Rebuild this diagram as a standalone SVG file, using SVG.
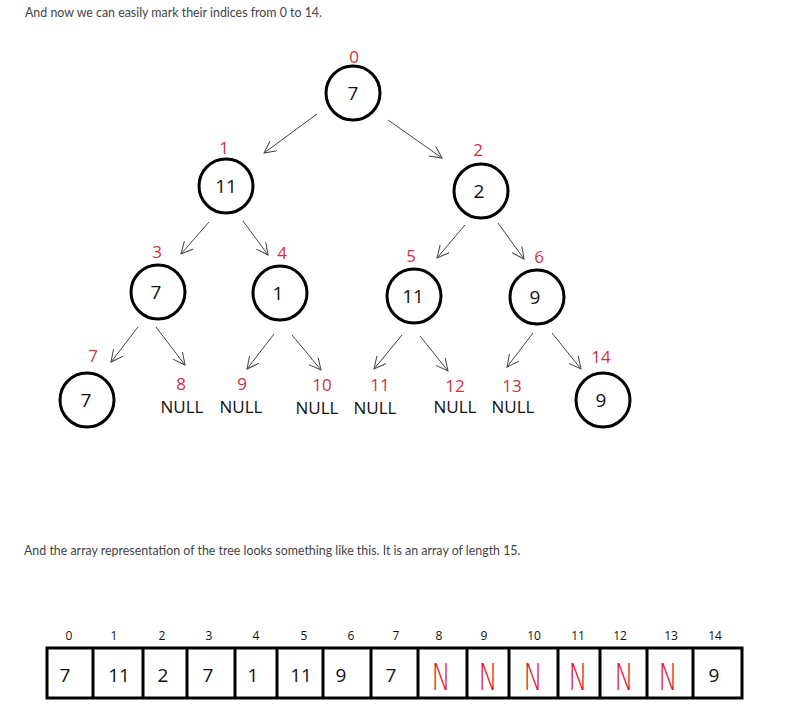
<svg xmlns="http://www.w3.org/2000/svg" width="796" height="725" viewBox="0 0 796 725">
<defs>
<marker id="ah" markerUnits="userSpaceOnUse" markerWidth="14" markerHeight="14" refX="12" refY="6" orient="auto">
<path d="M0,0 L12,6 L0,12" fill="none" stroke="#444" stroke-width="1"/>
</marker>
<style>
.cap{font-family:"Lato","Liberation Sans",sans-serif;font-size:12.4px;fill:#444}
.nd{fill:#fff;stroke:#000;stroke-width:3}
.v{font-family:"Open Sans","Liberation Sans",sans-serif;font-size:19px;fill:#111;text-anchor:middle}
.ix{font-family:"Open Sans","Liberation Sans",sans-serif;font-size:17px;fill:#d0313f;text-anchor:middle}
.nl{font-family:"Open Sans","Liberation Sans",sans-serif;font-size:17px;fill:#111;text-anchor:middle}
.e{stroke:#444;stroke-width:1;fill:none;marker-end:url(#ah)}
.cell{fill:#fff;stroke:#000;stroke-width:3}
.ai{font-family:"Open Sans","Liberation Sans",sans-serif;font-size:12px;fill:#111;text-anchor:middle}
.av{font-family:"Open Sans","Liberation Sans",sans-serif;font-size:19px;fill:#111;text-anchor:middle}
.an{font-family:"DejaVu Sans","Liberation Sans",sans-serif;font-size:37px;fill:#e8121c;text-anchor:middle;font-weight:200}
</style>
</defs>
<rect width="796" height="725" fill="#fff"/>
<text class="cap" x="25" y="17">And now we can easily mark their indices from 0 to 14.</text>
<text class="cap" x="24" y="555">And the array representation of the tree looks something like this. It is an array of length 15.</text>

<g id="connectors">
<line class="e" x1="317" y1="114" x2="264" y2="153"/>
<line class="e" x1="388" y1="120" x2="442" y2="158"/>
<line class="e" x1="209" y1="222" x2="181" y2="254"/>
<line class="e" x1="243" y1="221" x2="268" y2="255"/>
<line class="e" x1="465" y1="225" x2="437" y2="258"/>
<line class="e" x1="498" y1="223" x2="524" y2="259"/>
<line class="e" x1="138" y1="327" x2="111" y2="362"/>
<line class="e" x1="156" y1="327" x2="185" y2="365"/>
<line class="e" x1="274" y1="334" x2="247" y2="369"/>
<line class="e" x1="292" y1="335" x2="321" y2="370"/>
<line class="e" x1="402" y1="335" x2="374" y2="369"/>
<line class="e" x1="420" y1="336" x2="448" y2="371"/>
<line class="e" x1="533" y1="333" x2="507" y2="367"/>
<line class="e" x1="552" y1="333" x2="581" y2="369"/>
</g>

<g id="n0"><circle class="nd" cx="353" cy="93" r="27"/><text class="v" x="353" y="100">7</text><text class="ix" x="354" y="63">0</text></g>
<g id="n1"><circle class="nd" cx="226" cy="186" r="27"/><text class="v" x="226" y="193">11</text><text class="ix" x="224" y="154">1</text></g>
<g id="n2"><circle class="nd" cx="481" cy="191" r="27"/><text class="v" x="479" y="198">2</text><text class="ix" x="478" y="156">2</text></g>
<g id="n3"><circle class="nd" cx="158" cy="292" r="27"/><text class="v" x="156" y="299">7</text><text class="ix" x="157" y="258">3</text></g>
<g id="n4"><circle class="nd" cx="280" cy="293" r="27"/><text class="v" x="278" y="300">1</text><text class="ix" x="282" y="259">4</text></g>
<g id="n5"><circle class="nd" cx="414" cy="296" r="27"/><text class="v" x="413" y="303">11</text><text class="ix" x="411" y="262">5</text></g>
<g id="n6"><circle class="nd" cx="537" cy="297" r="27"/><text class="v" x="535" y="304">9</text><text class="ix" x="539" y="263">6</text></g>
<g id="n7"><circle class="nd" cx="87" cy="400" r="27"/><text class="v" x="86" y="407">7</text><text class="ix" x="93" y="362">7</text></g>
<g id="n8"><text class="ix" x="181" y="390">8</text><text class="nl" x="182" y="413">NULL</text></g>
<g id="n9"><text class="ix" x="242" y="390">9</text><text class="nl" x="241" y="413">NULL</text></g>
<g id="n10"><text class="ix" x="322" y="391">10</text><text class="nl" x="317" y="414">NULL</text></g>
<g id="n11"><text class="ix" x="380" y="391">11</text><text class="nl" x="375" y="414">NULL</text></g>
<g id="n12"><text class="ix" x="455" y="392">12</text><text class="nl" x="455" y="413">NULL</text></g>
<g id="n13"><text class="ix" x="512" y="392">13</text><text class="nl" x="513" y="413">NULL</text></g>
<g id="n14"><circle class="nd" cx="603" cy="400" r="27"/><text class="v" x="601" y="407">9</text><text class="ix" x="601" y="363">14</text></g>

<g id="array">
<rect class="cell" x="47" y="648" width="695" height="50"/>
<path d="M93,648V698M143,648V698M187,648V698M235,648V698M277,648V698M323,648V698M371,648V698M418,648V698M467,648V698M509,648V698M558,648V698M600,648V698M647,648V698M693,648V698" stroke="#000" stroke-width="3"/>
<text class="ai" x="69" y="640">0</text>
<text class="ai" x="114" y="640">1</text>
<text class="ai" x="162" y="640">2</text>
<text class="ai" x="209" y="640">3</text>
<text class="ai" x="256" y="640">4</text>
<text class="ai" x="304" y="640">5</text>
<text class="ai" x="351" y="640">6</text>
<text class="ai" x="396" y="640">7</text>
<text class="ai" x="439" y="640">8</text>
<text class="ai" x="484" y="640">9</text>
<text class="ai" x="534" y="640">10</text>
<text class="ai" x="578" y="640">11</text>
<text class="ai" x="620" y="640">12</text>
<text class="ai" x="671" y="640">13</text>
<text class="ai" x="715" y="640">14</text>
<text class="av" x="65" y="682">7</text>
<text class="av" x="119" y="682">11</text>
<text class="av" x="163" y="682">2</text>
<text class="av" x="208" y="682">7</text>
<text class="av" x="253" y="682">1</text>
<text class="av" x="301" y="682">11</text>
<text class="av" x="341" y="682">9</text>
<text class="av" x="391" y="682">7</text>
<text class="an" x="441" y="690" textLength="19" lengthAdjust="spacingAndGlyphs">N</text>
<text class="an" x="488" y="690" textLength="19" lengthAdjust="spacingAndGlyphs">N</text>
<text class="an" x="533" y="690" textLength="19" lengthAdjust="spacingAndGlyphs">N</text>
<text class="an" x="578" y="690" textLength="19" lengthAdjust="spacingAndGlyphs">N</text>
<text class="an" x="624" y="690" textLength="19" lengthAdjust="spacingAndGlyphs">N</text>
<text class="an" x="668" y="690" textLength="19" lengthAdjust="spacingAndGlyphs">N</text>
<text class="av" x="714" y="682">9</text>
</g>
</svg>
